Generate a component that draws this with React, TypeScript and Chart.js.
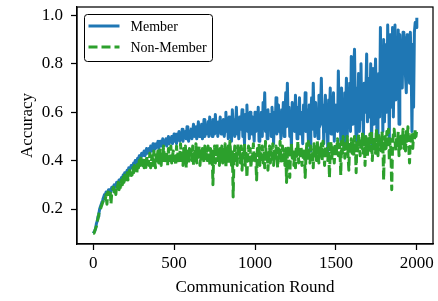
import React, { useEffect, useRef } from 'react';
import { Chart, registerables } from 'chart.js';

Chart.register(...registerables);

// Accuracy per communication round, sampled every 5 rounds (0..2000)
const memberAcc = [
  0.10, 0.10, 0.11, 0.12, 0.14, 0.15, 0.17, 0.18, 0.20, 0.21,
  0.22, 0.23, 0.24, 0.25, 0.26, 0.26, 0.27, 0.26, 0.27, 0.28,
  0.28,
  0.27, 0.28, 0.29, 0.28, 0.29, 0.30, 0.29, 0.30, 0.31, 0.30,
  0.31, 0.32, 0.31, 0.32, 0.33, 0.32, 0.34, 0.33, 0.35, 0.34,
  0.35, 0.36, 0.35, 0.37, 0.36, 0.37, 0.38, 0.37, 0.38, 0.39,
  0.38, 0.40, 0.39, 0.40, 0.41, 0.40, 0.42, 0.41, 0.42, 0.43,
  0.42, 0.43, 0.44, 0.42, 0.43, 0.45, 0.43, 0.44, 0.45, 0.43,
  0.46, 0.44, 0.45, 0.47, 0.44, 0.46, 0.45, 0.47, 0.46, 0.48,
  0.45, 0.47, 0.48, 0.46, 0.47, 0.49, 0.46, 0.48, 0.47, 0.49,
  0.46, 0.48, 0.50, 0.47, 0.49, 0.48, 0.50, 0.47, 0.49, 0.51,
  0.48, 0.50, 0.47, 0.51, 0.49, 0.52, 0.48, 0.50, 0.49, 0.53,
  0.48, 0.51, 0.50, 0.52, 0.49, 0.54, 0.50, 0.48, 0.52, 0.50,
  0.53, 0.49, 0.52, 0.55, 0.50, 0.51, 0.54, 0.49, 0.52, 0.56,
  0.50, 0.53, 0.51, 0.55, 0.49, 0.52, 0.57, 0.50, 0.54, 0.51,
  0.53, 0.56, 0.50, 0.58, 0.52, 0.54, 0.50, 0.57, 0.53, 0.51,
  0.59, 0.52, 0.55, 0.50, 0.56, 0.53, 0.58, 0.51, 0.55, 0.53,
  0.57, 0.50, 0.54, 0.60, 0.52, 0.56, 0.49, 0.58, 0.53, 0.55,
  0.48, 0.61, 0.52, 0.57, 0.50, 0.55, 0.62, 0.51, 0.56, 0.49,
  0.58, 0.53, 0.55, 0.61, 0.50, 0.57, 0.47, 0.59, 0.54, 0.63,
  0.52, 0.56, 0.49, 0.60, 0.55, 0.51, 0.58, 0.53, 0.48, 0.60,
  0.52, 0.59, 0.55, 0.62, 0.48, 0.57, 0.53, 0.60, 0.50, 0.64,
  0.56, 0.68, 0.52, 0.58, 0.49, 0.61, 0.55, 0.53, 0.59, 0.50,
  0.62, 0.55, 0.47, 0.60, 0.54, 0.66, 0.51, 0.58, 0.63, 0.52,
  0.57, 0.49, 0.61, 0.55, 0.64, 0.50, 0.58, 0.68, 0.54, 0.72,
  0.56, 0.62, 0.50, 0.59, 0.45, 0.64, 0.55, 0.60, 0.52, 0.67,
  0.57, 0.49, 0.62, 0.54, 0.66, 0.51, 0.60, 0.56, 0.47, 0.63,
  0.55, 0.68, 0.52, 0.61, 0.57, 0.48, 0.63, 0.44, 0.59, 0.66,
  0.53, 0.72, 0.58, 0.50, 0.64, 0.56, 0.61, 0.49, 0.67, 0.54,
  0.60, 0.74, 0.55, 0.63, 0.47, 0.58, 0.67, 0.52, 0.62, 0.43,
  0.65, 0.57, 0.70, 0.51, 0.60, 0.55, 0.68, 0.48, 0.63, 0.56,
  0.62, 0.52, 0.77, 0.58, 0.66, 0.48, 0.70, 0.55, 0.63, 0.45,
  0.68, 0.60, 0.74, 0.50, 0.65, 0.57, 0.72, 0.52, 0.83, 0.61,
  0.55, 0.78, 0.86, 0.62, 0.48, 0.70, 0.58, 0.76, 0.52, 0.66,
  0.80, 0.57, 0.64, 0.50, 0.72, 0.60, 0.68, 0.84, 0.56, 0.74,
  0.62, 0.58, 0.80, 0.47, 0.66, 0.78, 0.55, 0.70, 0.82, 0.60,
  0.49, 0.68, 0.76, 0.58, 0.95, 0.62, 0.85, 0.52, 0.90, 0.56,
  0.70, 0.88, 0.60, 0.96, 0.75, 0.48, 0.92, 0.82, 0.62, 0.95,
  0.58, 0.78, 0.96, 0.65, 0.88, 0.72, 0.94, 0.55, 0.92, 0.80,
  0.88, 0.70, 0.93, 0.82, 0.91, 0.75, 0.68, 0.92, 0.85, 0.90,
  0.72, 0.93, 0.80, 0.52, 0.88, 0.62, 0.93, 0.97, 0.95, 0.99,
];

const nonMemberAcc = [
  0.10, 0.10, 0.11, 0.12, 0.13, 0.15, 0.16, 0.18, 0.19, 0.20,
  0.21, 0.22, 0.23, 0.24, 0.25, 0.24, 0.26, 0.22, 0.27, 0.26,
  0.27,
  0.28, 0.22, 0.27, 0.28, 0.29, 0.27, 0.28, 0.26, 0.30, 0.29,
  0.31, 0.28, 0.30, 0.29, 0.32, 0.30, 0.33, 0.31, 0.34, 0.32,
  0.33, 0.35, 0.32, 0.34, 0.36, 0.33, 0.35, 0.34, 0.37, 0.35,
  0.38, 0.36, 0.37, 0.35, 0.39, 0.37, 0.40, 0.38, 0.41, 0.39,
  0.38, 0.41, 0.37, 0.40, 0.36, 0.42, 0.39, 0.41, 0.38, 0.43,
  0.37, 0.40, 0.42, 0.38, 0.44, 0.40, 0.37, 0.43, 0.41, 0.44,
  0.39, 0.42, 0.45, 0.38, 0.43, 0.40, 0.46, 0.41, 0.39, 0.44,
  0.42, 0.38, 0.45, 0.40, 0.43, 0.46, 0.39, 0.42, 0.44, 0.40,
  0.43, 0.38, 0.46, 0.41, 0.44, 0.39, 0.42, 0.47, 0.40, 0.43,
  0.38, 0.45, 0.41, 0.46, 0.37, 0.44, 0.42, 0.39, 0.45, 0.41,
  0.44, 0.40, 0.46, 0.38, 0.43, 0.41, 0.47, 0.39, 0.44, 0.42,
  0.46, 0.38, 0.43, 0.40, 0.45, 0.42, 0.39, 0.46, 0.41, 0.44,
  0.40, 0.46, 0.42, 0.38, 0.45, 0.41, 0.44, 0.30, 0.43, 0.46,
  0.39, 0.42, 0.47, 0.40, 0.44, 0.38, 0.45, 0.41, 0.46, 0.39,
  0.43, 0.40, 0.47, 0.37, 0.44, 0.41, 0.46, 0.39, 0.48, 0.42,
  0.38, 0.45, 0.25, 0.41, 0.46, 0.40, 0.43, 0.38, 0.47, 0.42,
  0.44, 0.39, 0.46, 0.36, 0.43, 0.41, 0.47, 0.38, 0.44, 0.33,
  0.42, 0.46, 0.40, 0.45, 0.37, 0.43, 0.41, 0.47, 0.39, 0.44,
  0.40, 0.32, 0.45, 0.42, 0.47, 0.38, 0.44, 0.41, 0.46, 0.39,
  0.43, 0.37, 0.48, 0.40, 0.44, 0.36, 0.42, 0.46, 0.39, 0.45,
  0.41, 0.47, 0.38, 0.44, 0.40, 0.46, 0.42, 0.37, 0.45, 0.41,
  0.48, 0.39, 0.43, 0.46, 0.40, 0.44, 0.38, 0.45, 0.31, 0.42,
  0.46, 0.40, 0.33, 0.44, 0.47, 0.41, 0.45, 0.38, 0.43, 0.37,
  0.46, 0.42, 0.48, 0.39, 0.44, 0.41, 0.46, 0.38, 0.43, 0.40,
  0.45, 0.33, 0.42, 0.47, 0.40, 0.48, 0.43, 0.39, 0.46, 0.41,
  0.44, 0.37, 0.47, 0.42, 0.45, 0.40, 0.48, 0.43, 0.39, 0.46,
  0.42, 0.47, 0.40, 0.48, 0.44, 0.38, 0.46, 0.42, 0.45, 0.40,
  0.47, 0.33, 0.44, 0.48, 0.41, 0.46, 0.43, 0.39, 0.47, 0.42,
  0.45, 0.49, 0.42, 0.47, 0.44, 0.34, 0.48, 0.43, 0.50, 0.45,
  0.41, 0.47, 0.44, 0.50, 0.42, 0.36, 0.48, 0.45, 0.49, 0.43,
  0.47, 0.42, 0.50, 0.46, 0.35, 0.48, 0.44, 0.51, 0.46, 0.42,
  0.49, 0.45, 0.52, 0.43, 0.48, 0.38, 0.50, 0.46, 0.42, 0.49,
  0.45, 0.51, 0.44, 0.52, 0.40, 0.48, 0.46, 0.50, 0.43, 0.53,
  0.47, 0.42, 0.51, 0.45, 0.49, 0.44, 0.52, 0.47, 0.32, 0.48,
  0.50, 0.45, 0.52, 0.47, 0.53, 0.40, 0.49, 0.44, 0.28, 0.46,
  0.51, 0.53, 0.48, 0.44, 0.50, 0.46, 0.52, 0.42, 0.49, 0.45,
  0.51, 0.47, 0.53, 0.45, 0.50, 0.44, 0.52, 0.48, 0.54, 0.46,
  0.39, 0.50, 0.47, 0.52, 0.45, 0.51, 0.48, 0.53, 0.50, 0.53,
];

const roundStep = 5;
const seriesNames = ['Member', 'Non-Member'];
const seriesColors = ['#1f77b4', '#2ca02c'];
const xTicks = [0, 500, 1000, 1500, 2000];
const yTicks = [0.2, 0.4, 0.6, 0.8, 1.0];
const xLabel = 'Communication Round';
const yLabel = 'Accuracy';

const FONT = '"Liberation Serif", "Times New Roman", serif';
const LINE_W = 3;

export default function App() {
  const ref = useRef<HTMLCanvasElement>(null);

  useEffect(() => {
    document.body.style.margin = '0';
    const canvas = ref.current;
    if (!canvas) return;
    const rounds = memberAcc.map((_, i) => i * roundStep);

    const frame = {
      id: 'frame',
      afterDatasetsDraw(chart: any) {
        const { ctx, chartArea: a } = chart;
        ctx.save();
        ctx.strokeStyle = '#000';
        ctx.lineWidth = 1.25;
        ctx.strokeRect(a.left, a.top, a.right - a.left, a.bottom - a.top);
        ctx.restore();
      },
    };

    const legendBox = {
      id: 'legendBox',
      afterDraw(chart: any) {
        const { ctx, chartArea: a } = chart;
        const bx = a.left + 7.5;
        const by = a.top + 7.5;
        const bw = 128;
        const bh = 47;
        const r = 3;
        ctx.save();
        ctx.beginPath();
        ctx.moveTo(bx + r, by);
        ctx.arcTo(bx + bw, by, bx + bw, by + bh, r);
        ctx.arcTo(bx + bw, by + bh, bx, by + bh, r);
        ctx.arcTo(bx, by + bh, bx, by, r);
        ctx.arcTo(bx, by, bx + bw, by, r);
        ctx.closePath();
        ctx.fillStyle = 'rgba(255,255,255,0.85)';
        ctx.fill();
        ctx.strokeStyle = '#000';
        ctx.lineWidth = 1;
        ctx.stroke();
        const rows = [by + 11.5, by + 32.5];
        seriesNames.forEach((name, i) => {
          const y = rows[i];
          ctx.beginPath();
          ctx.strokeStyle = seriesColors[i];
          ctx.lineWidth = LINE_W;
          ctx.setLineDash(i === 1 ? [9, 4] : []);
          ctx.moveTo(bx + 4, y);
          ctx.lineTo(bx + 35, y);
          ctx.stroke();
          ctx.setLineDash([]);
          ctx.fillStyle = '#000';
          ctx.font = `14px ${FONT}`;
          ctx.textBaseline = 'middle';
          ctx.textAlign = 'left';
          ctx.fillText(name, bx + 46, y + 1);
        });
        ctx.restore();
      },
    };

    const tickFont = { family: FONT, size: 17 };
    const titleFont = { family: FONT, size: 17 };

    const chart = new Chart(canvas, {
      type: 'line',
      data: {
        datasets: [
          {
            label: seriesNames[0],
            data: rounds.map((x, i) => ({ x, y: memberAcc[i] })),
            borderColor: seriesColors[0],
            backgroundColor: seriesColors[0],
            borderWidth: LINE_W,
            borderJoinStyle: 'round',
            pointRadius: 0,
            tension: 0,
            order: 2,
          },
          {
            label: seriesNames[1],
            data: rounds.map((x, i) => ({ x, y: nonMemberAcc[i] })),
            borderColor: seriesColors[1],
            backgroundColor: seriesColors[1],
            borderWidth: LINE_W,
            borderJoinStyle: 'round',
            borderDash: [9, 4],
            pointRadius: 0,
            tension: 0,
            order: 1,
          },
        ],
      },
      options: {
        responsive: false,
        animation: false,
        layout: { padding: { top: 7, right: 5, left: 0, bottom: 0 } },
        plugins: {
          legend: { display: false },
          tooltip: { enabled: false },
        },
        scales: {
          x: {
            type: 'linear',
            min: -100,
            max: 2100,
            afterBuildTicks: (s: any) => {
              s.ticks = xTicks.map((v) => ({ value: v }));
            },
            afterFit: (s: any) => {
              s.height = 57;
              s.paddingLeft = 0;
              s.paddingRight = 0;
            },
            grid: {
              display: true,
              drawOnChartArea: false,
              drawTicks: true,
              tickLength: 6,
              tickWidth: 1.25,
              tickColor: '#000',
            },
            border: { display: true, color: '#000', width: 1.25 },
            ticks: {
              color: '#000',
              font: tickFont,
              padding: 3,
              maxRotation: 0,
              autoSkip: false,
              callback: (v: any) => String(v),
            },
            title: {
              display: true,
              text: xLabel,
              color: '#000',
              font: titleFont,
              padding: { top: 0, bottom: 3 },
            },
          },
          y: {
            type: 'linear',
            min: 0.0555,
            max: 1.0345,
            afterBuildTicks: (s: any) => {
              s.ticks = yTicks.map((v) => ({ value: v }));
            },
            afterFit: (s: any) => {
              s.width = 77;
              s.paddingTop = 0;
              s.paddingBottom = 0;
            },
            grid: {
              display: true,
              drawOnChartArea: false,
              drawTicks: true,
              tickLength: 6,
              tickWidth: 1.25,
              tickColor: '#000',
            },
            border: { display: true, color: '#000', width: 1.25 },
            ticks: {
              color: '#000',
              font: tickFont,
              padding: 8,
              autoSkip: false,
              callback: (v: any) => Number(v).toFixed(1),
            },
            title: {
              display: true,
              text: yLabel,
              color: '#000',
              font: titleFont,
              padding: { top: 17, bottom: 0 },
            },
          },
        },
      },
      plugins: [frame, legendBox],
    });

    return () => chart.destroy();
  }, []);

  return (
    <div style={{ width: 438, height: 301 }}>
      <canvas ref={ref} width={438} height={301} style={{ display: 'block' }} />
    </div>
  );
}
